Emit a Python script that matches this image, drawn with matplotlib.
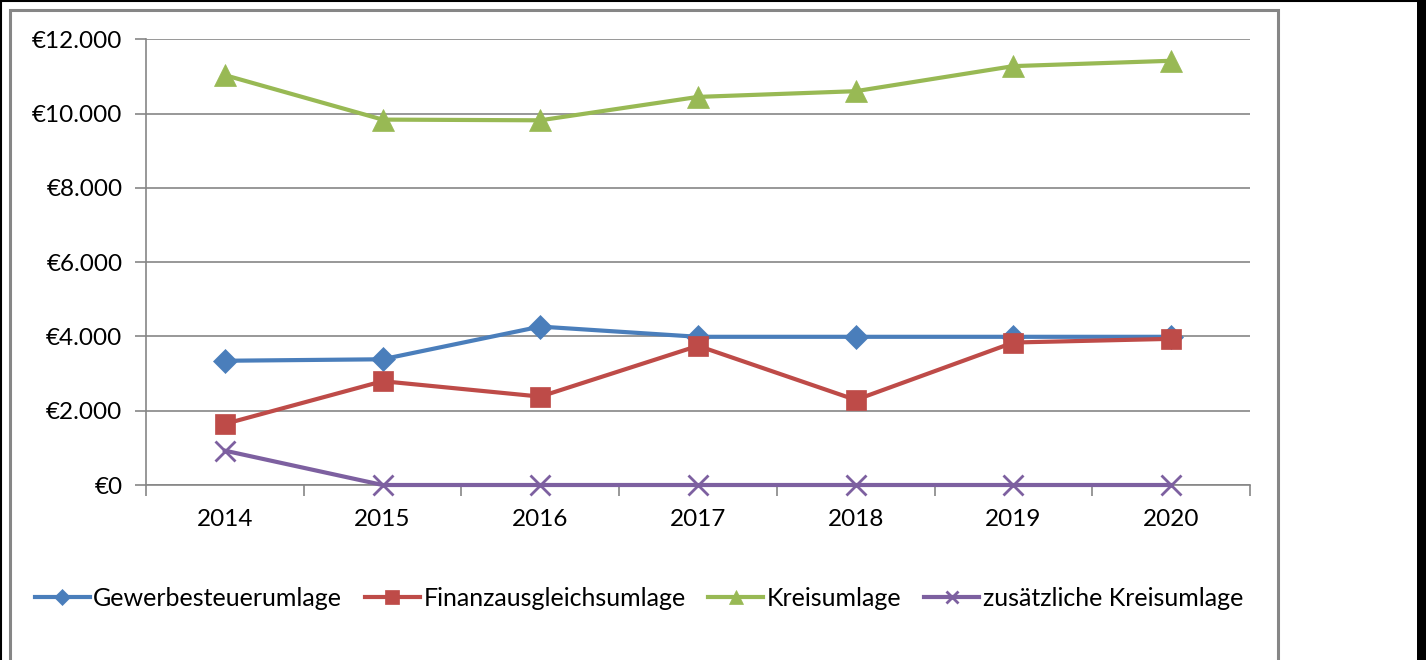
import matplotlib
matplotlib.use("Agg")
import matplotlib.pyplot as plt
from matplotlib.patches import Rectangle
from matplotlib.lines import Line2D
from matplotlib.ticker import FuncFormatter, MultipleLocator, FixedLocator

plt.rcParams['font.family'] = ['Lato', 'DejaVu Sans']

years = ["2014", "2015", "2016", "2017", "2018", "2019", "2020"]
gewerbe = [3345, 3385, 4265, 3990, 3990, 3990, 3990]
finanz = [1644, 2795, 2380, 3747, 2291, 3836, 3935]
kreis = [11035, 9838, 9819, 10449, 10603, 11278, 11422]
zusatz = [925, 0, 0, 0, 0, 0, 0]

series_names = ["Gewerbesteuerumlage", "Finanzausgleichsumlage", "Kreisumlage", "zusätzliche Kreisumlage"]
colors = ["#4A7EBB", "#BE4B48", "#98B954", "#7D60A0"]
markers = ["D", "s", "^", "x"]
msizes = [12, 15, 16, 14]

W, H = 1426, 660
fig = plt.figure(figsize=(W / 100, H / 100), dpi=100)
fig.patch.set_facecolor("white")

# outer frames (black top/left lines, black right band, grey chart border)
fig.lines.append(Line2D([0.5 / W, 0.5 / W], [0, 1], transform=fig.transFigure, color="black", linewidth=1.5))
fig.lines.append(Line2D([0, 1417 / W], [1 - 0.8 / H, 1 - 0.8 / H], transform=fig.transFigure, color="black", linewidth=1.5))
fig.patches.append(Rectangle((1417 / W, 0), 9 / W, 1, transform=fig.transFigure,
                             facecolor="black", edgecolor="none", zorder=0))
fig.patches.append(Rectangle((10 / W, -0.05), (1278 - 10) / W, 1 - 10 / H + 0.05,
                             transform=fig.transFigure, fill=False,
                             edgecolor="#868686", linewidth=2.2, zorder=0))

ax = fig.add_axes([146 / W, 1 - 485 / H, (1250 - 146) / W, (485 - 39.3) / H])
x = list(range(len(years)))
data = [gewerbe, finanz, kreis, zusatz]
for vals, name, c, m, ms in zip(data, series_names, colors, markers, msizes):
    ax.plot(x, vals, color=c, marker=m, markersize=ms, linewidth=3.0, label=name,
            markeredgewidth=2.0 if m == "x" else 0.5, markeredgecolor=c, clip_on=False, zorder=3)

ax.set_xlim(-0.5, len(years) - 0.5)
ax.set_ylim(0, 12000)
ax.yaxis.set_major_locator(MultipleLocator(2000))
ax.yaxis.set_major_formatter(FuncFormatter(lambda v, p: "€" + format(int(v), ",").replace(",", ".")))
ax.grid(axis="y", color="#868686", linewidth=1.2)
ax.set_axisbelow(True)
for s in ["top", "right"]:
    ax.spines[s].set_visible(False)
for s in ["left", "bottom"]:
    ax.spines[s].set_color("#868686")
    ax.spines[s].set_linewidth(1.2)

ax.set_xticks(x)
ax.set_xticklabels(years)
ax.xaxis.set_minor_locator(FixedLocator([i - 0.5 for i in range(len(years) + 1)]))
ax.tick_params(axis="x", which="major", length=0, pad=17, labelsize=17.5)
ax.tick_params(axis="x", which="minor", length=8, color="#868686", width=1.2)
ax.tick_params(axis="y", which="major", length=8, color="#868686", width=1.2, labelsize=17.5, pad=9)

handles, labels = ax.get_legend_handles_labels()
fig.legend(handles, labels, loc="center", bbox_to_anchor=(639 / W, 1 - 598 / H), ncol=4,
           frameon=False, fontsize=18, handlelength=2.2, handletextpad=0.15,
           columnspacing=0.9, markerscale=0.65)

fig.savefig("out.png", dpi=100)
